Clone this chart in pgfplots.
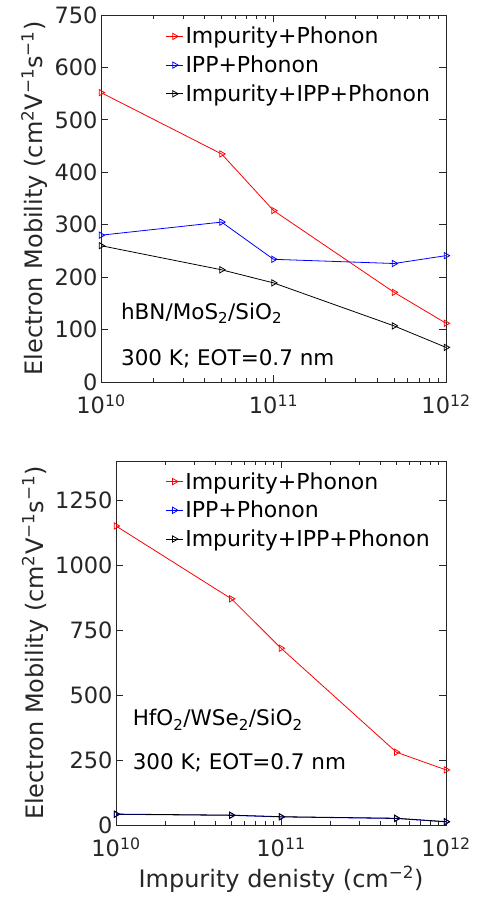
\documentclass[border=0pt]{standalone}
\usepackage{fontspec}
\setmainfont{DejaVu Sans}
\usepackage{pgfplots}
\pgfplotsset{compat=1.18}
\definecolor{axgray}{RGB}{38,38,38}
\pgfplotsset{
  every axis/.append style={
    scale only axis,
    tick align=inside,
    major tick length=7pt,
    minor tick length=4pt,
    axis line style={axgray, line width=0.9pt},
    every tick/.style={axgray, line width=0.8pt},
    tick label style={font=\fontsize{22.5}{26}\selectfont, text=axgray, inner ysep=0.5pt},
    xticklabel style={yshift=-12pt},
    label style={font=\fontsize{24}{28}\selectfont, text=axgray},
    xlabel style={yshift=-5pt},
    legend style={draw=none, fill=none, font=\fontsize{22}{26}\selectfont, text=black, row sep=6.5pt},
    legend cell align=left,
  },
  every axis plot/.append style={line width=0.8pt, mark=triangle,
      mark size=3.6pt, mark options={rotate=-90, fill=white, solid}},
}
\begin{document}
\begin{tikzpicture}[x=1pt,y=1pt]
\useasboundingbox (0,0) rectangle (478,907);
% top panel
\begin{axis}[
  at={(101pt,525pt)}, anchor=south west,
  width=345pt, height=367pt,
  xmode=log, xmin=1e10, xmax=1e12,
  xtick={1e10,1e11,1e12},
  xticklabels={10\textsuperscript{10},10\textsuperscript{11},10\textsuperscript{12}},
  ymin=0, ymax=700,
  ytick={0,100,200,300,400,500,600,700},
  yticklabels={0,100,200,300,400,500,600,750},
  ylabel={Electron Mobility (cm\textsuperscript{2}V\textsuperscript{−1}s\textsuperscript{−1})},
  legend style={at={(0.178,0.978)}, anchor=north west},
]
\addplot[red] coordinates {(1e10,552) (5e10,435) (1e11,327) (5e11,171) (1e12,112)};
\addplot[blue] coordinates {(1e10,280) (5e10,305) (1e11,234) (5e11,226) (1e12,241)};
\addplot[black] coordinates {(1e10,260) (5e10,214) (1e11,189) (5e11,107) (1e12,66)};
\legend{Impurity+Phonon, IPP+Phonon, Impurity+IPP+Phonon}
\node[anchor=base west, font=\fontsize{21.5}{24}\selectfont, text=black] at (rel axis cs:0.048,0.17) {hBN/MoS\textsubscript{2}/SiO\textsubscript{2}};
\node[anchor=base west, font=\fontsize{21.5}{24}\selectfont, text=black] at (rel axis cs:0.048,0.045) {300 K; EOT=0.7 nm};
\end{axis}
% bottom panel
\begin{axis}[
  at={(116pt,82pt)}, anchor=south west,
  width=330pt, height=364pt,
  xmode=log, xmin=1e10, xmax=1e12,
  xtick={1e10,1e11,1e12},
  xticklabels={10\textsuperscript{10},10\textsuperscript{11},10\textsuperscript{12}},
  ymin=0, ymax=1400,
  ytick={0,250,500,750,1000,1250},
  yticklabels={0,250,500,750,1000,1250},
  ylabel={Electron Mobility (cm\textsuperscript{2}V\textsuperscript{−1}s\textsuperscript{−1})},
  xlabel={Impurity denisty (cm\textsuperscript{−2})},
  legend style={at={(0.14,0.98)}, anchor=north west},
]
\addplot[red] coordinates {(1e10,1150) (5e10,870) (1e11,680) (5e11,280) (1e12,212)};
\addplot[blue] coordinates {(1e10,41) (5e10,37) (1e11,31) (5e11,25) (1e12,12)};
\addplot[black] coordinates {(1e10,42) (5e10,38) (1e11,32) (5e11,26) (1e12,13)};
\legend{Impurity+Phonon, IPP+Phonon, Impurity+IPP+Phonon}
\node[anchor=base west, font=\fontsize{21.5}{24}\selectfont, text=black] at (rel axis cs:0.04,0.272) {HfO\textsubscript{2}/WSe\textsubscript{2}/SiO\textsubscript{2}};
\node[anchor=base west, font=\fontsize{21.5}{24}\selectfont, text=black] at (rel axis cs:0.04,0.152) {300 K; EOT=0.7 nm};
\end{axis}
\end{tikzpicture}
\end{document}
